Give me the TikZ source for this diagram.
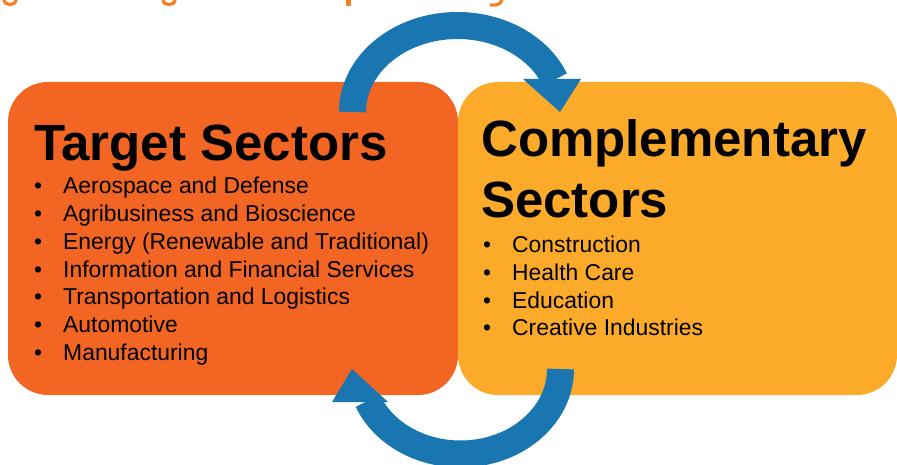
\documentclass[tikz,border=0pt]{standalone}
\usepackage{fontspec}
\setmainfont{Liberation Sans}
\definecolor{boxorange}{HTML}{F26522}
\definecolor{boxyellow}{HTML}{FBAB29}
\definecolor{arrowblue}{HTML}{1A76B0}
\definecolor{titleorange}{HTML}{F58025}
\begin{document}
\begin{tikzpicture}[x=1pt,y=-1pt,
  sectorbox/.style={inner sep=0pt, outer sep=0pt, rounded corners=40pt, minimum width=450pt, minimum height=313pt},
  headline/.style={anchor=base west, inner sep=0pt, font=\fontsize{51}{60}\selectfont\bfseries},
  listitem/.style={anchor=base west, inner sep=0pt, font=\fontsize{22.9}{27}\selectfont},
  cyclearrow/.style={draw=arrowblue, line width=27pt},
  arrowhead/.style={fill=arrowblue},
  fragment/.style={draw=titleorange, line width=3.2pt}
]
\useasboundingbox (0,0) rectangle (897,465);
% clipped remains of the heading above
\draw[fragment] (3.5,0) .. controls (4.5,6) and (15.5,6) .. (16.5,0);
\draw[fragment] (162.5,0) .. controls (163.5,6) and (174.5,6) .. (175.5,0);
\fill[titleorange] (346,0) rectangle (351,6.5);
\draw[fragment] (502,0) .. controls (500,5) and (496,5.5) .. (490,5);

% sector boxes
\node[sectorbox, fill=boxorange] (target) at (233,238.5) {};
\node[sectorbox, fill=boxyellow, minimum width=439pt] (compl) at (677.5,238.5) {};

% cycle arrows
\coordinate (toptail) at (352.5,112);
\coordinate (bottail) at (560.5,369);
\draw[cyclearrow] (toptail) arc[start angle=180, end angle=22, x radius=105pt, y radius=86.5pt];
\fill[arrowhead] (523,79) -- (581,79) -- (560,112) -- cycle;
\draw[cyclearrow] (bottail) arc[start angle=0, end angle=-158, x radius=100pt, y radius=85pt];
\fill[arrowhead] (332,402) -- (388,402) -- (352,369) -- cycle;

% texts
\node[headline] (ttitle) at (34,161) {Target Sectors};
\foreach \t [count=\i] in {Aerospace and Defense, Agribusiness and Bioscience, {Energy (Renewable and Traditional)}, Information and Financial Services, Transportation and Logistics, Automotive, Manufacturing}
  \node[listitem] (ti\i) at (63,{194+27.67*(\i-1)}) {\llap{•\hspace{21pt}}\t};
\node[headline] (ctitle) at (481,157) {Complementary};
\node[headline] (ctitleb) at (481,218) {Sectors};
\foreach \t [count=\i] in {Construction, Health Care, Education, Creative Industries}
  \node[listitem] (ci\i) at (512,{253+27.5*(\i-1)}) {\llap{•\hspace{21pt}}\t};
\end{tikzpicture}
\end{document}
